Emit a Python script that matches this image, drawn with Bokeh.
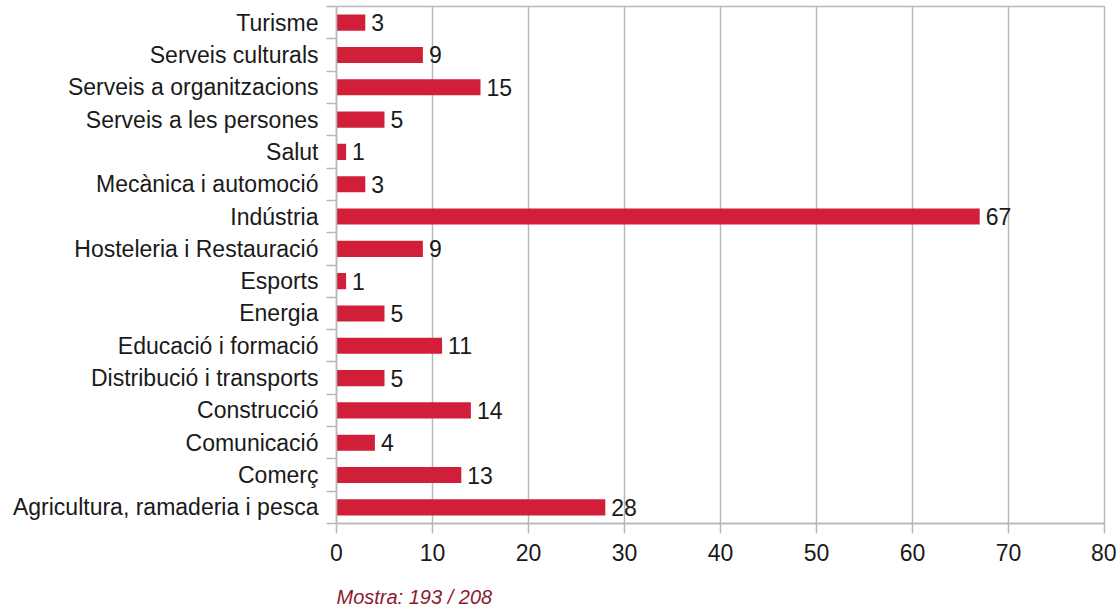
from bokeh.plotting import figure
from bokeh.models import ColumnDataSource, FixedTicker, Range1d, Title
from bokeh.core.properties import value
from bokeh.embed import file_html
from bokeh.resources import INLINE

categories = [
    "Agricultura, ramaderia i pesca", "Comerç", "Comunicació", "Construcció",
    "Distribució i transports", "Educació i formació", "Energia", "Esports",
    "Hosteleria i Restauració", "Indústria", "Mecànica i automoció", "Salut",
    "Serveis a les persones", "Serveis a organitzacions", "Serveis culturals", "Turisme",
]
values = [28, 13, 4, 14, 5, 11, 5, 1, 9, 67, 3, 1, 5, 15, 9, 3]
x_ticks = [0, 10, 20, 30, 40, 50, 60, 70, 80]
caption = "Mostra: 193 / 208"

FONT = "Liberation Sans"
BAR = "#d11f3a"
GRID = "#b8b8b8"
TXT = "#1a1a1a"
FS = "23px"

pos = list(range(len(categories)))
src = ColumnDataSource(dict(y=pos, v=values, lab=[str(v) for v in values]))

p = figure(output_backend="svg", toolbar_location=None,
           frame_width=768, frame_height=517,
           min_border_left=336, min_border_right=12, min_border_top=6, min_border_bottom=0,
           x_range=Range1d(0, 80), y_range=Range1d(-0.5, len(categories) - 0.5))
p.background_fill_color = "white"
p.border_fill_color = "white"
p.outline_line_color = GRID
p.outline_line_width = 1.5

p.hbar(y="y", right="v", left=0, height=0.5, source=src, fill_color=BAR, line_color=None)
p.text(x="v", y="y", text="lab", source=src, x_offset=6, text_baseline="middle",
       text_align="left", text_font=value(FONT), text_font_size=FS, text_color=TXT)

# x axis
xa = p.xaxis[0]
xa.ticker = FixedTicker(ticks=x_ticks)
xa.axis_line_color = GRID
xa.axis_line_width = 1.5
xa.major_tick_line_color = GRID
xa.major_tick_line_width = 1.5
xa.major_tick_out = 10
xa.major_tick_in = 0
xa.minor_tick_line_color = None
xa.major_label_text_font = FONT
xa.major_label_text_font_size = FS
xa.major_label_text_color = TXT
xa.major_label_standoff = 10

# y axis
ya = p.yaxis[0]
ya.ticker = FixedTicker(ticks=pos, minor_ticks=[i - 0.5 for i in range(len(categories) + 1)])
ya.major_label_overrides = {i: c for i, c in enumerate(categories)}
ya.axis_line_color = GRID
ya.axis_line_width = 1.5
ya.major_tick_line_color = None
ya.major_tick_out = 0
ya.major_tick_in = 0
ya.minor_tick_line_color = GRID
ya.minor_tick_line_width = 1.5
ya.minor_tick_out = 10
ya.minor_tick_in = 0
ya.major_label_text_font = FONT
ya.major_label_text_font_size = FS
ya.major_label_text_color = TXT
ya.major_label_standoff = 8

p.xgrid.ticker = FixedTicker(ticks=x_ticks)
p.xgrid.grid_line_color = GRID
p.xgrid.grid_line_width = 1.5
p.ygrid.grid_line_color = None

cap = Title(text=caption, align="left", offset=0, text_font=FONT, text_font_size="20px",
            text_font_style="italic", text_color="#8b1c2e", standoff=40)
p.add_layout(cap, "below")

open("out.html", "w").write(file_html(p, INLINE))
